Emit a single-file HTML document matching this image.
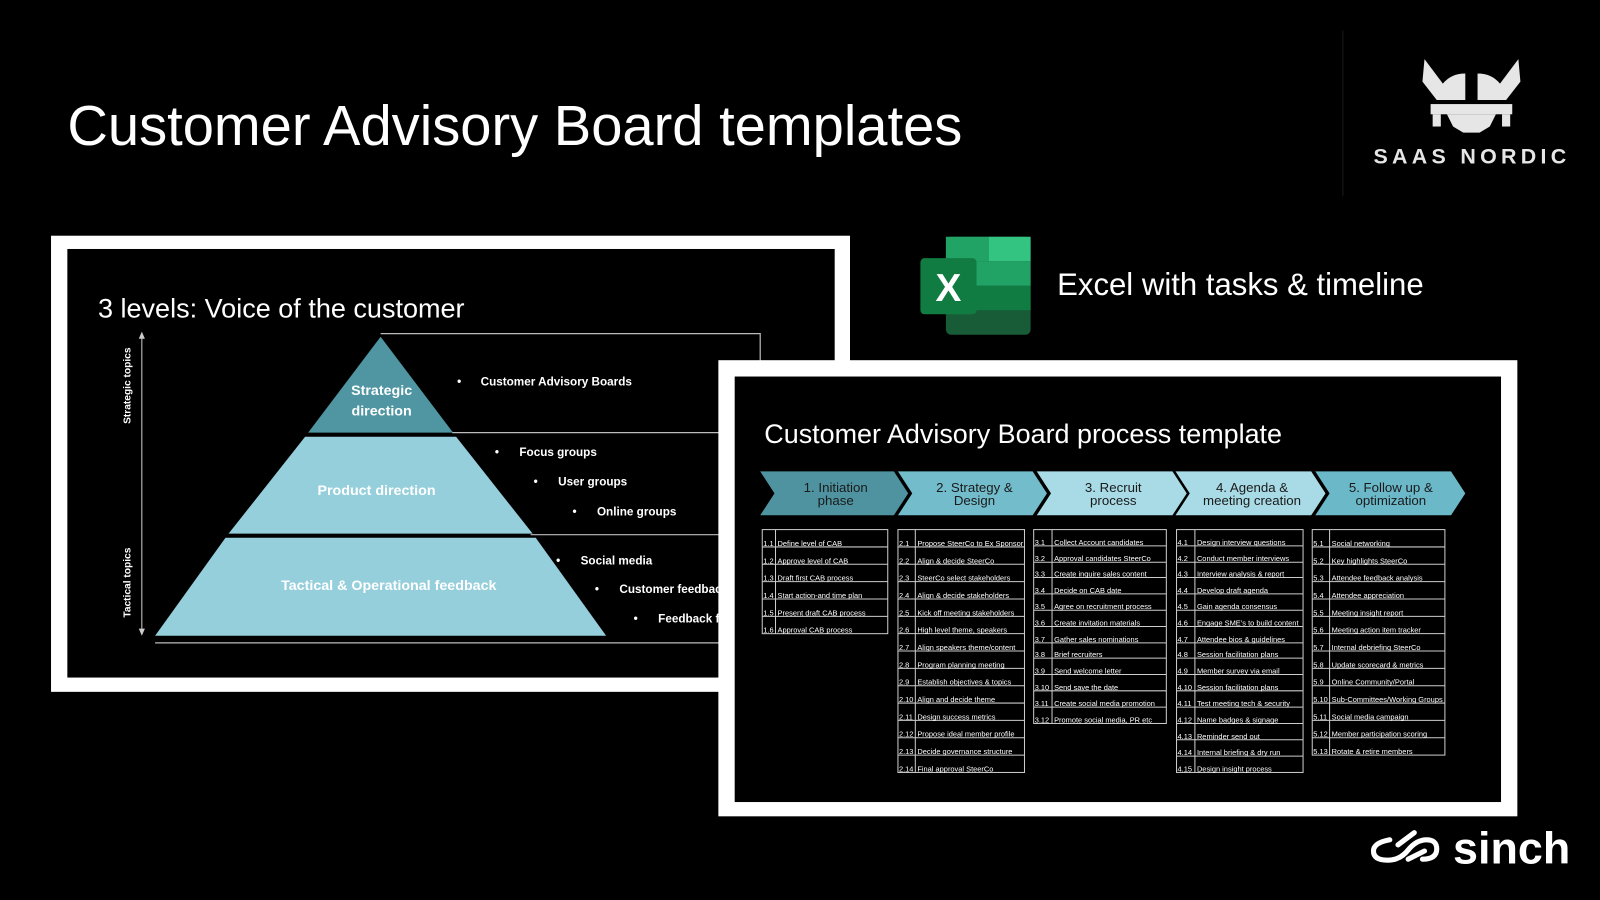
<!DOCTYPE html>
<html><head><meta charset="utf-8"><style>
html,body{margin:0;padding:0;background:#000;}
svg{display:block}
text{font-family:"Liberation Sans",Arial,sans-serif}
</style></head><body>
<svg width="1600" height="900" viewBox="0 0 1568 882" preserveAspectRatio="none" xmlns="http://www.w3.org/2000/svg">
<rect width="1568" height="882" fill="#000"/>
<text x="66" y="142" font-size="55" fill="#fff">Customer Advisory Board templates</text>

<!-- SaaS Nordic logo -->
<line x1="1316" y1="30" x2="1316" y2="192" stroke="#1a1a1a" stroke-width="1"/>
<g fill="#e6e6e6">
<path d="M1396 58 L1394 80 L1408 98 L1436 98 L1436 72 Q1422 72 1414 82 Z"/>
<path d="M1488 58 L1490 80 L1476 98 L1448 98 L1448 72 Q1462 72 1470 82 Z"/>
<rect x="1402" y="102" width="80" height="10"/>
<rect x="1404" y="112" width="8" height="12"/>
<rect x="1472" y="112" width="8" height="12"/>
<path d="M1418 112 L1466 112 L1460 124 L1450 130 L1434 130 L1424 124 Z"/>
</g>
<text x="1346" y="160" font-size="21" fill="#e6e6e6" font-weight="bold" letter-spacing="4.2">SAAS NORDIC</text>

<!-- Left slide -->
<rect x="50" y="231" width="783" height="447" fill="#fff"/>
<rect x="66" y="244" width="752" height="420" fill="#000"/>
<text x="96" y="311" font-size="26.5" fill="#fff">3 levels: Voice of the customer</text>
<line x1="139" y1="330" x2="139" y2="618" stroke="#ccc" stroke-width="1"/>
<path d="M136 332 L139 325 L142 332 Z M136 616 L139 623 L142 616 Z" fill="#ccc"/>
<text transform="translate(128,378) rotate(-90)" text-anchor="middle" font-size="10" font-weight="bold" fill="#fff">Strategic topics</text>
<text transform="translate(128,571) rotate(-90)" text-anchor="middle" font-size="10" font-weight="bold" fill="#fff">Tactical topics</text>
<g stroke="#bbb" stroke-width="1.2" fill="none">
<polyline points="373,327 745,327 745,360"/>
<line x1="443" y1="424" x2="720" y2="424"/>
<line x1="520" y1="524" x2="720" y2="524"/>
<line x1="152" y1="630" x2="720" y2="630"/>
</g>
<polygon points="373,330 444,424 302,424" fill="#4f96a2"/>
<polygon points="299,428 447,428 522,523 224,523" fill="#96cfdc"/>
<polygon points="221,527 525,527 594,623 152,623" fill="#96cfdc"/>
<g fill="#fff" font-weight="bold" text-anchor="middle" font-size="14">
<text x="374" y="387">Strategic</text><text x="374" y="407">direction</text>
<text x="369" y="485">Product direction</text>
<text x="381" y="578">Tactical &amp; Operational feedback</text>
</g>
<g fill="#fff" font-weight="bold" font-size="11.5">
<text x="448" y="378">•</text><text x="471" y="378">Customer Advisory Boards</text>
<text x="485" y="447">•</text><text x="509" y="447">Focus groups</text>
<text x="523" y="476">•</text><text x="547" y="476">User groups</text>
<text x="561" y="505">•</text><text x="585" y="505">Online groups</text>
<text x="545" y="553">•</text><text x="569" y="553">Social media</text>
<text x="583" y="581">•</text><text x="607" y="581">Customer feedback</text>
<text x="621" y="610">•</text><text x="645" y="610">Feedback forms</text>
</g>

<!-- Excel icon -->
<rect x="927" y="232" width="83" height="96" rx="5" fill="#185c37"/>
<rect x="927" y="232" width="42" height="24" fill="#21a366"/>
<rect x="969" y="232" width="41" height="24" fill="#33c481"/>
<rect x="927" y="256" width="83" height="24" fill="#21a366"/>
<rect x="927" y="280" width="83" height="24" fill="#107c41"/>
<rect x="902" y="253" width="55" height="55" rx="4" fill="#107c41"/>
<text x="929.5" y="295" font-size="38" font-weight="bold" fill="#fff" text-anchor="middle">X</text>
<text x="1036" y="289" font-size="30.5" fill="#fff">Excel with tasks &amp; timeline</text>

<!-- Right slide -->
<rect x="704" y="353" width="783" height="447" fill="#fff"/>
<rect x="720" y="369" width="751" height="417" fill="#000"/>
<text x="749" y="434" font-size="26.4" fill="#fff">Customer Advisory Board process template</text>
<polygon points="745,462 876,462 890,483.5 876,505 745,505 759,483.5" fill="#4f93a0"/>
<polygon points="880,462 1012,462 1026,483.5 1012,505 880,505 894,483.5" fill="#72bccc"/>
<polygon points="1016,462 1149,462 1163,483.5 1149,505 1016,505 1030,483.5" fill="#a8dbe6"/>
<polygon points="1152,462 1285,462 1299,483.5 1285,505 1152,505 1166,483.5" fill="#a8dbe6"/>
<polygon points="1289,462 1422,462 1436,483.5 1422,505 1289,505 1303,483.5" fill="#6bb8c8"/>
<g font-size="13" fill="#1a1a1a" text-anchor="middle">
<text x="819" y="482">1. Initiation</text><text x="819" y="495">phase</text>
<text x="955" y="482">2. Strategy &amp;</text><text x="955" y="495">Design</text>
<text x="1091" y="482">3. Recruit</text><text x="1091" y="495">process</text>
<text x="1227" y="482">4. Agenda &amp;</text><text x="1227" y="495">meeting creation</text>
<text x="1363" y="482">5. Follow up &amp;</text><text x="1363" y="495">optimization</text>
</g>

<g stroke="#ccc" stroke-width="1" fill="none">
<rect x="747" y="519" width="123" height="102"/><line x1="760" y1="519" x2="760" y2="621"/>
<path d="M747 536H870M747 553H870M747 570H870M747 587H870M747 604H870"/>
<rect x="880" y="519" width="124" height="238"/><line x1="897" y1="519" x2="897" y2="757"/>
<path d="M880 536H1004M880 553H1004M880 570H1004M880 587H1004M880 604H1004M880 621H1004M880 638H1004M880 655H1004M880 672H1004M880 689H1004M880 706H1004M880 723H1004M880 740H1004"/>
<rect x="1013" y="519" width="130" height="190"/><line x1="1031" y1="519" x2="1031" y2="709"/>
<path d="M1013 535H1143M1013 551H1143M1013 566H1143M1013 582H1143M1013 598H1143M1013 614H1143M1013 630H1143M1013 645H1143M1013 661H1143M1013 677H1143M1013 693H1143"/>
<rect x="1153" y="519" width="124" height="238"/><line x1="1171" y1="519" x2="1171" y2="757"/>
<path d="M1153 535H1277M1153 551H1277M1153 566H1277M1153 582H1277M1153 598H1277M1153 614H1277M1153 630H1277M1153 645H1277M1153 661H1277M1153 677H1277M1153 693H1277M1153 709H1277M1153 725H1277M1153 741H1277"/>
<rect x="1286" y="519" width="130" height="221"/><line x1="1303" y1="519" x2="1303" y2="740"/>
<path d="M1286 536H1416M1286 553H1416M1286 570H1416M1286 587H1416M1286 604H1416M1286 621H1416M1286 638H1416M1286 655H1416M1286 672H1416M1286 689H1416M1286 706H1416M1286 723H1416"/>
</g>
<g font-size="7.3" fill="#fff">
<text x="748" y="535">1.1</text><text x="762" y="535">Define level of CAB</text>
<text x="748" y="552">1.2</text><text x="762" y="552">Approve level of CAB</text>
<text x="748" y="569">1.3</text><text x="762" y="569">Draft first CAB process</text>
<text x="748" y="586">1.4</text><text x="762" y="586">Start action-and time plan</text>
<text x="748" y="603">1.5</text><text x="762" y="603">Present draft CAB process</text>
<text x="748" y="620">1.6</text><text x="762" y="620">Approval CAB process</text>

<text x="881" y="535">2.1</text><text x="899" y="535">Propose SteerCo to Ex Sponsor</text>
<text x="881" y="552">2.2</text><text x="899" y="552">Align &amp; decide SteerCo</text>
<text x="881" y="569">2.3</text><text x="899" y="569">SteerCo select stakeholders</text>
<text x="881" y="586">2.4</text><text x="899" y="586">Align &amp; decide stakeholders</text>
<text x="881" y="603">2.5</text><text x="899" y="603">Kick off meeting stakeholders</text>
<text x="881" y="620">2.6</text><text x="899" y="620">High level theme, speakers</text>
<text x="881" y="637">2.7</text><text x="899" y="637">Align speakers theme/content</text>
<text x="881" y="654">2.8</text><text x="899" y="654">Program planning meeting</text>
<text x="881" y="671">2.9</text><text x="899" y="671">Establish objectives &amp; topics</text>
<text x="881" y="688">2.10</text><text x="899" y="688">Align and decide theme</text>
<text x="881" y="705">2.11</text><text x="899" y="705">Design success metrics</text>
<text x="881" y="722">2.12</text><text x="899" y="722">Propose ideal member profile</text>
<text x="881" y="739">2.13</text><text x="899" y="739">Decide governance structure</text>
<text x="881" y="756">2.14</text><text x="899" y="756">Final approval SteerCo</text>

<text x="1014" y="534">3.1</text><text x="1033" y="534">Collect Account candidates</text>
<text x="1014" y="550">3.2</text><text x="1033" y="550">Approval candidates SteerCo</text>
<text x="1014" y="565">3.3</text><text x="1033" y="565">Create inquire sales content</text>
<text x="1014" y="581">3.4</text><text x="1033" y="581">Decide on CAB date</text>
<text x="1014" y="597">3.5</text><text x="1033" y="597">Agree on recruitment process</text>
<text x="1014" y="613">3.6</text><text x="1033" y="613">Create invitation materials</text>
<text x="1014" y="629">3.7</text><text x="1033" y="629">Gather sales nominations</text>
<text x="1014" y="644">3.8</text><text x="1033" y="644">Brief recruiters</text>
<text x="1014" y="660">3.9</text><text x="1033" y="660">Send welcome letter</text>
<text x="1014" y="676">3.10</text><text x="1033" y="676">Send save the date</text>
<text x="1014" y="692">3.11</text><text x="1033" y="692">Create social media promotion</text>
<text x="1014" y="708">3.12</text><text x="1033" y="708">Promote social media, PR etc</text>

<text x="1154" y="534">4.1</text><text x="1173" y="534">Design interview questions</text>
<text x="1154" y="550">4.2</text><text x="1173" y="550">Conduct member interviews</text>
<text x="1154" y="565">4.3</text><text x="1173" y="565">Interview analysis &amp; report</text>
<text x="1154" y="581">4.4</text><text x="1173" y="581">Develop draft agenda</text>
<text x="1154" y="597">4.5</text><text x="1173" y="597">Gain agenda consensus</text>
<text x="1154" y="613">4.6</text><text x="1173" y="613">Engage SME’s to build content</text>
<text x="1154" y="629">4.7</text><text x="1173" y="629">Attendee bios &amp; guidelines</text>
<text x="1154" y="644">4.8</text><text x="1173" y="644">Session facilitation plans</text>
<text x="1154" y="660">4.9</text><text x="1173" y="660">Member survey via email</text>
<text x="1154" y="676">4.10</text><text x="1173" y="676">Session facilitation plans</text>
<text x="1154" y="692">4.11</text><text x="1173" y="692">Test meeting tech &amp; security</text>
<text x="1154" y="708">4.12</text><text x="1173" y="708">Name badges &amp; signage</text>
<text x="1154" y="724">4.13</text><text x="1173" y="724">Reminder send out</text>
<text x="1154" y="740">4.14</text><text x="1173" y="740">Internal briefing &amp; dry run</text>
<text x="1154" y="756">4.15</text><text x="1173" y="756">Design insight  process</text>

<text x="1287" y="535">5.1</text><text x="1305" y="535">Social networking</text>
<text x="1287" y="552">5.2</text><text x="1305" y="552">Key highlights SteerCo</text>
<text x="1287" y="569">5.3</text><text x="1305" y="569">Attendee feedback analysis</text>
<text x="1287" y="586">5.4</text><text x="1305" y="586">Attendee appreciation</text>
<text x="1287" y="603">5.5</text><text x="1305" y="603">Meeting insight report</text>
<text x="1287" y="620">5.6</text><text x="1305" y="620">Meeting action item tracker</text>
<text x="1287" y="637">5.7</text><text x="1305" y="637">Internal debriefing SteerCo</text>
<text x="1287" y="654">5.8</text><text x="1305" y="654">Update scorecard &amp; metrics</text>
<text x="1287" y="671">5.9</text><text x="1305" y="671">Online Community/Portal</text>
<text x="1287" y="688">5.10</text><text x="1305" y="688">Sub-Committees/Working Groups</text>
<text x="1287" y="705">5.11</text><text x="1305" y="705">Social media campaign</text>
<text x="1287" y="722">5.12</text><text x="1305" y="722">Member participation scoring</text>
<text x="1287" y="739">5.13</text><text x="1305" y="739">Rotate &amp; retire members</text>
</g>

<!-- sinch logo -->
<g fill="none" stroke="#fff" stroke-width="5" stroke-linecap="round">
<path d="M1362 823 Q1346 826 1346 834 Q1346 843 1360 843 Q1372 843 1380 833 Q1388 823 1398 823 Q1408 823 1408 832 Q1408 842 1394 842"/>
<path d="M1370 828 L1386 816 M1380 842 L1396 834"/>
</g>
<text x="1424" y="846" font-size="44" font-weight="bold" fill="#fff" letter-spacing="0">sinch</text>
</svg>
</body></html>
